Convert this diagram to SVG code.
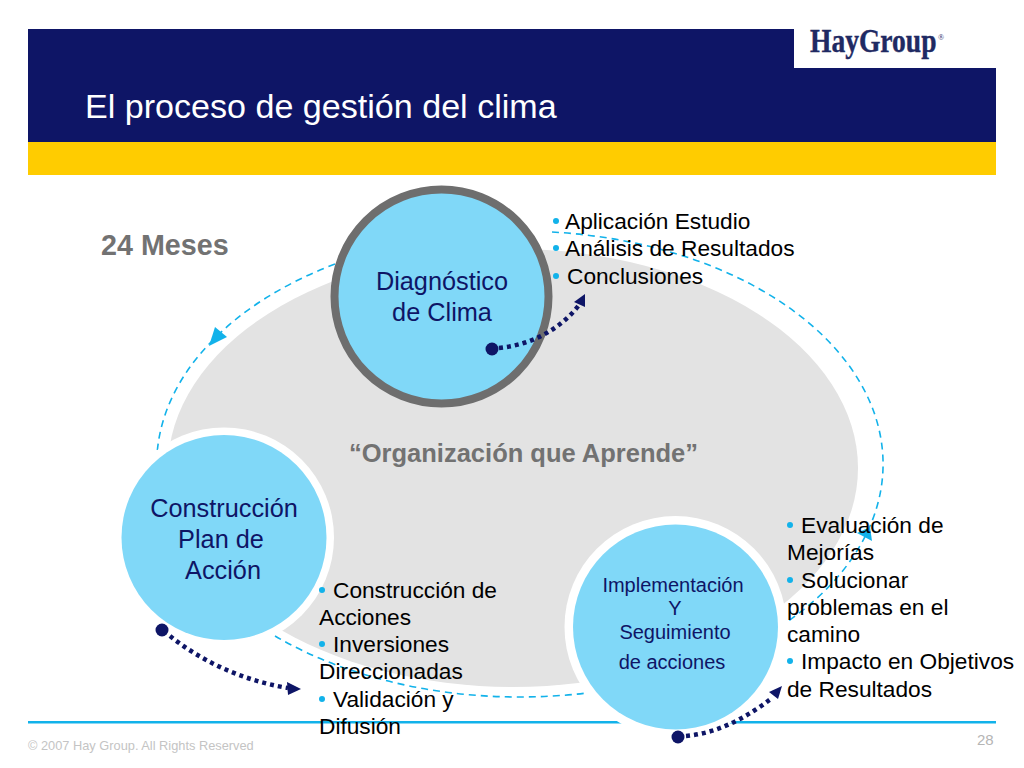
<svg xmlns="http://www.w3.org/2000/svg" width="1024" height="768" viewBox="0 0 1024 768">
<defs>
<style>
text{font-family:"Liberation Sans",Arial,sans-serif}
.cy{fill:#80d8f8}
.nl{font-size:25.3px;fill:#0e1566;text-anchor:middle}
.ns{font-size:20px;fill:#0e1566;text-anchor:middle}
.b{font-size:22.7px;fill:#000}
.d{fill:#12b2ea}
.dash{fill:none;stroke:#12b2ea;stroke-width:1.6;stroke-dasharray:7 5}
.dot{fill:none;stroke:#0e1566;stroke-width:4.5;stroke-dasharray:4 4}
.h{fill:#0e1566}
.ah{fill:#12b2ea}
.lg{font-family:"Liberation Serif",serif;fill:#1f2a63}
</style>
</defs>
<rect width="1024" height="768" fill="#fff"/>
<g id="header">
<rect x="28" y="29" width="968" height="113" fill="#0e1566"/>
<rect x="28" y="142" width="968" height="33" fill="#ffcc00"/>
<rect x="794" y="29" width="202" height="39" fill="#fff"/>
<text id="logo" class="lg" transform="translate(810 52) scale(.81 1)" font-size="34" font-weight="bold" stroke="#1f2a63" stroke-width=".4">HayGroup</text>
<text class="lg" x="938" y="40" font-size="8">®</text>
<text x="85" y="118" font-size="34.100" fill="#fff">El proceso de gestión del clima</text>
</g>
<rect x="28" y="721" width="968" height="2.500" fill="#12b2ea"/>
<ellipse id="backdrop" cx="513" cy="468" rx="345" ry="219" fill="#e3e3e3"/>
<g id="connectors">
<path class="dash" d="M335 264A363 233 0 0 0 157.400 450"/>
<path class="dash" d="M552 232A363 233 0 0 1 787 622"/>
<path class="dash" d="M275 636A363 233 0 0 0 590 692.600"/>
<polygon class="ah" points="209,346 215,327 227,337"/>
<polygon class="ah" points="857,533 870,527 872,541"/>
</g>
<g id="n1"><circle cx="441.500" cy="296.500" r="107" fill="#80d8f8" stroke="#6e6e6e" stroke-width="8"/>
<text class="nl" x="442" y="290">Diagnóstico</text><text class="nl" x="442" y="321">de Clima</text></g>
<g id="n2"><circle cx="224" cy="537.500" r="110" fill="#fff"/><circle class="cy" cx="224" cy="537.500" r="102.500"/>
<text class="nl" x="224" y="517">Construcción</text><text class="nl" x="221" y="548">Plan de</text><text class="nl" x="223" y="579">Acción</text></g>
<g id="n3"><circle cx="675.500" cy="627" r="111" fill="#fff"/><circle class="cy" cx="675.500" cy="627" r="102.500"/>
<text class="ns" x="673" y="592">Implementación</text><text class="ns" x="675" y="615">Y</text><text class="ns" x="675" y="639">Seguimiento</text><text class="ns" x="672" y="669">de acciones</text></g>
<g id="flows">
<circle class="h" cx="492" cy="349" r="6.500"/><path class="dot" d="M499 348C530 345 560 330 579 305"/><polygon class="h" points="585,294 574,302 585,307"/>
<circle class="h" cx="162" cy="630" r="6.500"/><path class="dot" d="M170 636C200 660 240 680 288 688"/><polygon class="h" points="301,689 287,682 288,695"/>
<circle class="h" cx="678" cy="737" r="6.500"/><path class="dot" d="M686 736C720 733 750 715 772 698"/><polygon class="h" points="782,686 769,692 778,699"/>
</g>
<text x="101" y="255" font-size="28.700" font-weight="bold" fill="#727272">24 Meses</text>
<text x="349" y="462" font-size="25.500" font-weight="bold" fill="#727272">“Organización que Aprende”</text>
<g id="list1">
<circle class="d" cx="556" cy="221" r="3"/><text class="b" x="565" y="229">Aplicación Estudio</text>
<circle class="d" cx="556" cy="248" r="3"/><text class="b" x="565" y="256">Análisis de Resultados</text>
<circle class="d" cx="556" cy="276" r="3"/><text class="b" x="567" y="284">Conclusiones</text>
</g>
<g id="list2">
<circle class="d" cx="322" cy="590" r="3"/><text class="b" x="333" y="598">Construcción de</text>
<text class="b" x="319" y="625">Acciones</text>
<circle class="d" cx="322" cy="644" r="3"/><text class="b" x="333" y="652">Inversiones</text>
<text class="b" x="319" y="679">Direccionadas</text>
<circle class="d" cx="322" cy="699" r="3"/><text class="b" x="333" y="707">Validación y</text>
<text class="b" x="319" y="734">Difusión</text>
</g>
<g id="list3">
<circle class="d" cx="790" cy="525" r="3"/><text class="b" x="801" y="533">Evaluación de</text>
<text class="b" x="787" y="560">Mejorías</text>
<circle class="d" cx="790" cy="580" r="3"/><text class="b" x="801" y="588">Solucionar</text>
<text class="b" x="787" y="615">problemas en el</text>
<text class="b" x="787" y="642">camino</text>
<circle class="d" cx="790" cy="661" r="3"/><text class="b" x="801" y="669">Impacto en Objetivos</text>
<text class="b" x="787" y="697">de Resultados</text>
</g>
<text x="28" y="750" font-size="12.800" fill="#c4c4c4">© 2007 Hay Group. All Rights Reserved</text>
<text x="977" y="745" font-size="15" fill="#b5b5b5">28</text>
</svg>
